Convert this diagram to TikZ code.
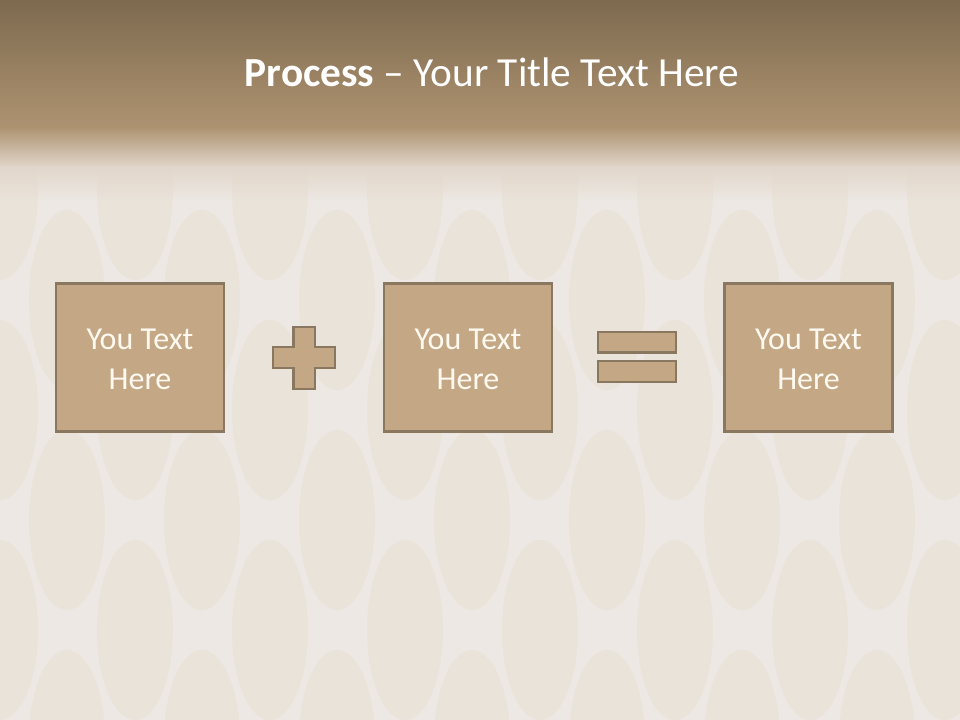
\documentclass[tikz,border=0pt]{standalone}
\usepackage{fontspec}
\usetikzlibrary{fadings}
\setmainfont{Carlito}
\definecolor{hdtop}{HTML}{7D6A4F}
\definecolor{hdbot}{HTML}{AE9371}
\definecolor{bgl}{HTML}{EDE8E3}
\definecolor{bgfade}{HTML}{E2D7CB}
\definecolor{drop}{HTML}{E6DACB}
\definecolor{boxfill}{HTML}{C4A886}
\definecolor{boxline}{HTML}{8A7760}
\definecolor{txt}{HTML}{FFF9F0}
\tikzset{
  stepbox/.style={draw=boxline, fill=boxfill, line width=2pt, minimum width=126pt, minimum height=111pt, inner sep=0pt},
  boxtext/.style={align=center, text=txt, inner sep=0pt, font=\fontsize{24}{30}\selectfont},
  sym/.style={draw=boxline, fill=boxfill, line width=2pt},
}
\begin{document}
\begin{tikzpicture}[x=0.75pt,y=-0.75pt]
\useasboundingbox (0,0) rectangle (960,720);
% background
\fill[bgl] (0,0) rectangle (960,720);
\begin{scope}
\clip (0,150) rectangle (960,720);
\foreach \j in {0,...,5}{
  \foreach \i in {-1,...,8}{
    \pgfmathsetmacro{\cx}{\i*135+mod(\j,2)*67}
    \pgfmathsetmacro{\cy}{190+\j*110}
    \fill[drop,opacity=0.35] (\cx,\cy) ellipse (38 and 90);
  }
}
\end{scope}
% header
\shade[top color=hdtop,bottom color=hdbot] (0,0) rectangle (960,128);
\shade[top color=hdbot,bottom color=bgfade] (0,127.5) rectangle (960,168);
\fill[bgfade,path fading=south] (0,167.5) rectangle (960,200);
\node[text=white, font=\fontsize{31}{36}\selectfont, anchor=base] (title) at (492,87) {\textbf{Process} – Your Title Text Here};
% boxes
\node[stepbox] (b1) at (140,357.5) {};
\node[stepbox] (b2) at (468,357.5) {};
\node[stepbox] (b3) at (808.5,357.5) {};
\node[boxtext] (t1) at ([yshift=-1.5pt]b1.center) {You Text\\Here};
\node[boxtext] (t2) at ([yshift=-1.5pt]b2.center) {You Text\\Here};
\node[boxtext] (t3) at ([yshift=-1.5pt]b3.center) {You Text\\Here};
% plus
\path[sym] (293.5,327) -- (315,327) -- (315,347) -- (335,347) -- (335,368) -- (315,368) -- (315,389) -- (293.5,389) -- (293.5,368) -- (273,368) -- (273,347) -- (293.5,347) -- cycle;
% equals
\path[sym] (598,332) rectangle (676,352.5);
\path[sym] (598,361) rectangle (676,382);
\end{tikzpicture}
\end{document}
